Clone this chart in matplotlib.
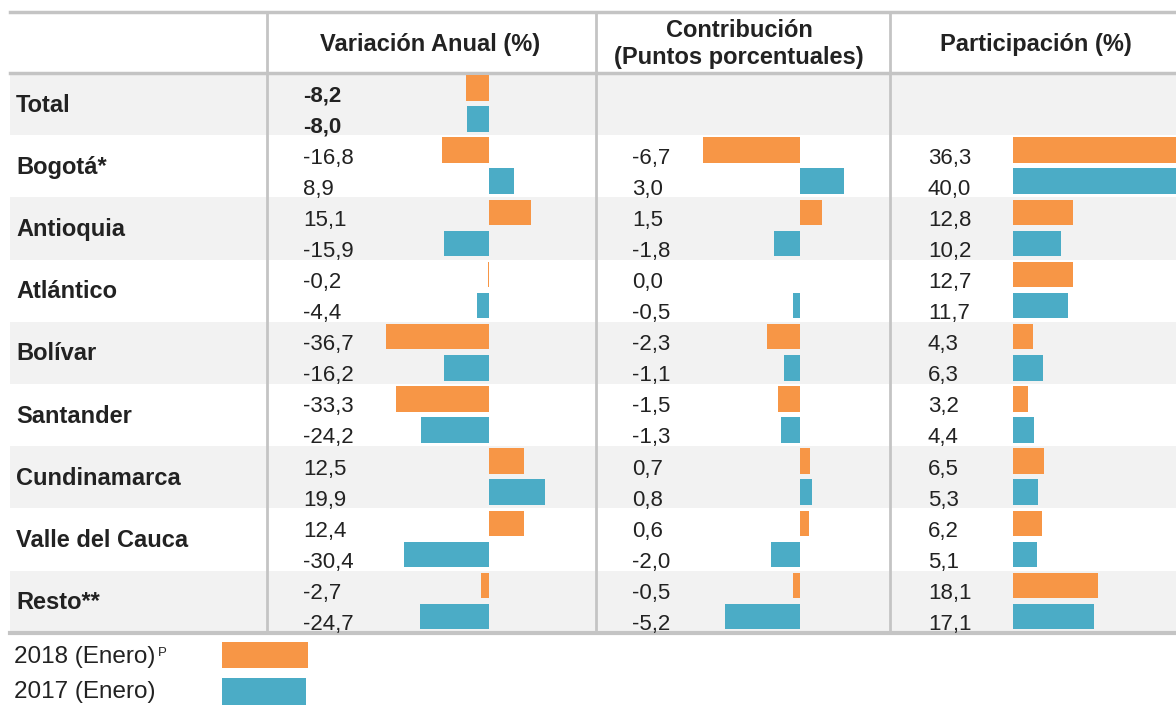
import matplotlib
matplotlib.use("Agg")
import matplotlib.pyplot as plt
from matplotlib.patches import Rectangle
import numpy as np

plt.rcParams['font.family'] = ['Liberation Sans', 'DejaVu Sans']

# ---------------- data ----------------
regions = ["Total", "Bogotá*", "Antioquia", "Atlántico", "Bolívar", "Santander",
           "Cundinamarca", "Valle del Cauca", "Resto**"]

var_2018 = [-8.2, -16.8, 15.1, -0.2, -36.7, -33.3, 12.5, 12.4, -2.7]
var_2017 = [-8.0, 8.9, -15.9, -4.4, -16.2, -24.2, 19.9, -30.4, -24.7]

con_2018 = [np.nan, -6.7, 1.5, 0.0, -2.3, -1.5, 0.7, 0.6, -0.5]
con_2017 = [np.nan, 3.0, -1.8, -0.5, -1.1, -1.3, 0.8, -2.0, -5.2]

par_2018 = [np.nan, 36.3, 12.8, 12.7, 4.3, 3.2, 6.5, 6.2, 18.1]
par_2017 = [np.nan, 40.0, 10.2, 11.7, 6.3, 4.4, 5.3, 5.1, 17.1]

headers = ["Variación Anual (%)", "Contribución\n(Puntos porcentuales)", "Participación (%)"]
legend_labels = ["2018 (Enero)", "2017 (Enero)"]
legend_sup = "P"

C18 = "#F79646"
C17 = "#4BACC6"
BAND = "#F2F2F2"
LINE = "#C4C4C4"
TXT = "#222222"

W, H = 1176, 705
fig = plt.figure(figsize=(W / 100, H / 100), dpi=100)

# background axes in pixel coordinates (layout only)
bg = fig.add_axes([0, 0, 1, 1])
bg.set_xlim(0, W)
bg.set_ylim(H, 0)
bg.axis("off")

top_line = 12
head_bot = 73
row_h = 62.2
n = len(regions)
tab_bot = head_bot + n * row_h
left = 10
col_x = [267, 596, 890, W]

# bands
for i in range(n):
    if i % 2 == 0:
        bg.add_patch(Rectangle((left, head_bot + i * row_h), W - left, row_h,
                               facecolor=BAND, edgecolor="none", zorder=0))
# lines
bg.plot([left, W], [top_line, top_line], color=LINE, lw=2.5, zorder=1)
bg.plot([left, W], [head_bot, head_bot], color=LINE, lw=2.5, zorder=1)
bg.plot([left, W], [tab_bot, tab_bot], color=LINE, lw=3, zorder=1)
for x in col_x[:3]:
    bg.plot([x, x], [top_line, tab_bot], color=LINE, lw=2, zorder=1)

FS = 17
# headers
hdr_cx = [430, 739, 1036]
bg.text(hdr_cx[0], 45, headers[0], ha="center", va="center", fontsize=FS,
        fontweight="bold", color=TXT)
bg.text(hdr_cx[1], 44, headers[1], ha="center", va="center", fontsize=FS,
        fontweight="bold", color=TXT, linespacing=1.2)
bg.text(hdr_cx[2], 45, headers[2], ha="center", va="center", fontsize=FS,
        fontweight="bold", color=TXT)

# region labels
for i, r in enumerate(regions):
    bg.text(16, head_bot + (i + 0.5) * row_h + 1, r, ha="left", va="center",
            fontsize=FS, fontweight="bold", color=TXT)

# bar axes: (x0_px, x1_px, zero_px, px_per_unit)
specs = [
    (267, 596, 489, 2.8, var_2018, var_2017, 303),
    (596, 890, 800, 14.5, con_2018, con_2017, 632),
    (890, W, 1013, 4.72, par_2018, par_2017, 928),
]

def fmt(v):
    return f"{v:.1f}".replace(".", ",")

for x0, x1, zero, ppu, v18, v17, tx in specs:
    ax = fig.add_axes([x0 / W, 1 - tab_bot / H, (x1 - x0) / W, (tab_bot - head_bot) / H])
    ax.set_xlim(-(zero - x0) / ppu, (x1 - zero) / ppu)
    ax.set_ylim(n, 0)
    ax.patch.set_alpha(0)
    ax.axis("off")
    y = np.arange(n)
    ax.barh(y + 0.24, v18, height=0.41, color=C18, zorder=2)
    ax.barh(y + 0.74, v17, height=0.41, color=C17, zorder=2)
    for i in range(n):
        for v, off in ((v18[i], 0.455), (v17[i], 0.955)):
            if np.isnan(v):
                continue
            bg.text(tx, head_bot + (i + off) * row_h, fmt(v), ha="left",
                    va="baseline", fontsize=16, color=TXT,
                    fontweight="bold" if i == 0 else "normal")

# legend
t0 = bg.text(14, 657, legend_labels[0], ha="left", va="center", fontsize=17.5, color=TXT)
bg.text(14, 692, legend_labels[1], ha="left", va="center", fontsize=17.5, color=TXT)
bg.annotate(legend_sup, xy=(1, 0.95), xycoords=t0, xytext=(1.5, 0),
            textcoords="offset points", ha="left", va="top", fontsize=9.5, color=TXT)
bg.add_patch(Rectangle((222, 642), 86, 26, facecolor=C18, edgecolor="none"))
bg.add_patch(Rectangle((222, 678), 84, 27, facecolor=C17, edgecolor="none"))

fig.savefig("out.png", dpi=100)
